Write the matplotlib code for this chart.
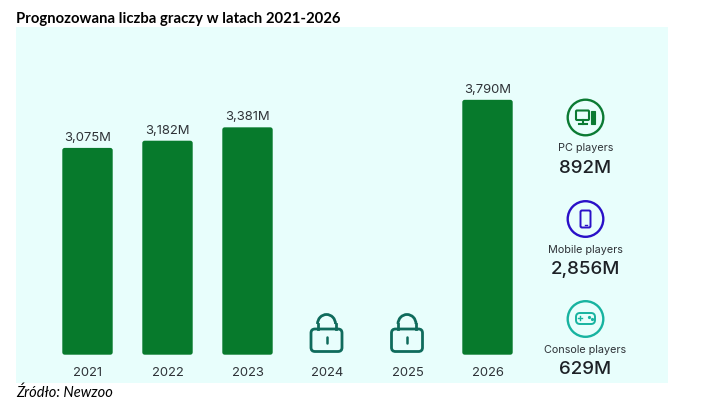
#!/usr/bin/env python3
import matplotlib
matplotlib.use("Agg")
import matplotlib.pyplot as plt
from matplotlib.patches import Circle, FancyBboxPatch, Rectangle, Arc

years = ["2021", "2022", "2023", "2024", "2025", "2026"]
players = [3075, 3182, 3381, None, None, 3790]
bar_labels = ["3,075M", "3,182M", "3,381M", "", "", "3,790M"]
segments = ["PC players", "Mobile players", "Console players"]
segment_values = ["892M", "2,856M", "629M"]
segment_colors = ["#0b7a33", "#2a10c8", "#17b3a0"]

W, H = 715, 414
PANEL = "#e8fefc"
BAR = "#077a2c"
LOCK = "#0f6b5c"
TEXT = "#2f3338"
DARK = "#1d2126"
UNITS_PER_PX = 14.87
STEP_PX = 80.0
ZERO_Y = 355.7
FONT = "Inter"

fig = plt.figure(figsize=(W / 100, H / 100), dpi=100, facecolor="white")

# Chart axes cover the tinted panel, zero line sits just under y=355 px
left, right, top, bottom = 16, 668, 28, 384
ax = fig.add_axes([left / W, 1 - bottom / H, (right - left) / W, (bottom - top) / H])
ax.set_facecolor(PANEL)
ax.set_xlim((left - 87.5) / STEP_PX, (right - 87.5) / STEP_PX)
ax.set_ylim(-(bottom - ZERO_Y) * UNITS_PER_PX, (ZERO_Y - top) * UNITS_PER_PX)
for s in ax.spines.values():
    s.set_visible(False)
ax.set_yticks([])
ax.set_xticks([])

aspect = UNITS_PER_PX * STEP_PX
width = 0.63
for i, year in enumerate(years):
    ax.annotate(year, (i, 0), xytext=(0, -12.2), textcoords="offset points",
                ha="center", va="center", fontsize=9.4, color=TEXT, family=FONT)
    v = players[i]
    if v is None:
        continue
    ax.add_patch(FancyBboxPatch((i - width / 2, 0), width, v,
                                boxstyle="round,pad=0,rounding_size=0.03",
                                mutation_aspect=aspect, fc=BAR, ec="none"))
    ax.annotate(bar_labels[i], (i, v), xytext=(0, 7.9), textcoords="offset points",
                ha="center", va="center", fontsize=9.4, color=TEXT, family=FONT)

# Overlay in pixel coordinates for icons and the side column
ov = fig.add_axes([0, 0, 1, 1])
ov.set_xlim(0, W)
ov.set_ylim(H, 0)
ov.axis("off")


def draw_lock(cx):
    ov.add_patch(FancyBboxPatch((cx - 15.5, 330), 31, 22.5, boxstyle="round,pad=0,rounding_size=4",
                                fc="none", ec=LOCK, lw=2))
    ov.add_patch(Arc((cx, 325), 18, 19, theta1=180, theta2=360, ec=LOCK, lw=2))
    ov.plot([cx - 9, cx - 9], [325, 330], color=LOCK, lw=2)
    ov.plot([cx + 9, cx + 9], [325, 330], color=LOCK, lw=2)
    ov.plot([cx, cx], [338, 344], color=LOCK, lw=1.8, solid_capstyle="round")


def draw_pc(cx, cy, c):
    ov.add_patch(FancyBboxPatch((cx - 9.5, cy - 7), 13, 9.5, boxstyle="round,pad=0,rounding_size=1",
                                fc="none", ec=c, lw=1.5))
    ov.plot([cx - 3, cx - 3], [cy + 2.5, cy + 6], color=c, lw=1.5)
    ov.plot([cx - 7, cx + 1], [cy + 6.5, cy + 6.5], color=c, lw=1.5)
    ov.add_patch(Rectangle((cx + 5.5, cy - 7), 4, 13.5, fc=c, ec=c, lw=0.8))


def draw_mobile(cx, cy, c):
    ov.add_patch(FancyBboxPatch((cx - 5, cy - 8.5), 10, 17, boxstyle="round,pad=0,rounding_size=1.5",
                                fc="none", ec=c, lw=1.4))
    ov.plot([cx - 1, cx + 1], [cy + 6.3, cy + 6.3], color=c, lw=1)


def draw_pad(cx, cy, c):
    ov.add_patch(FancyBboxPatch((cx - 9.5, cy - 6), 19, 11, boxstyle="round,pad=0,rounding_size=4",
                                fc="none", ec=c, lw=1.4))
    ov.plot([cx - 7.5, cx - 3.5], [cy - 1, cy - 1], color=c, lw=1)
    ov.plot([cx - 5.5, cx - 5.5], [cy - 3, cy + 1], color=c, lw=1)
    ov.plot([cx + 3, cx + 6], [cy - 2, cy], "o", color=c, ms=1.3)


for cx in (326.5, 407):
    draw_lock(cx)

icon_y = [118.5, 220, 320]
label_y = [148, 250, 350]
value_y = [168.7, 270, 370]
icons = [draw_pc, draw_mobile, draw_pad]
cx = 585.5
for name, val, c, iy, ly, vy, icon in zip(segments, segment_values, segment_colors,
                                           icon_y, label_y, value_y, icons):
    ov.add_patch(Circle((cx, iy), 17.8, fc="none", ec=c, lw=1.7))
    icon(cx, iy, c)
    ov.text(cx, ly, name, ha="center", va="center", fontsize=7.8, color=TEXT, family=FONT)
    ov.text(cx, vy, val, ha="center", va="center", fontsize=13.5, color=DARK, family=FONT, weight="medium")

ov.text(16, 19, "Prognozowana liczba graczy w latach 2021-2026", ha="left", va="center",
        fontsize=10.7, weight="bold", color="black", family="Lato")
ov.text(16, 393, "Źródło: Newzoo", ha="left", va="center", fontsize=10.5, style="italic",
        color="black", family="Lato")

fig.savefig("out.png", dpi=100)
